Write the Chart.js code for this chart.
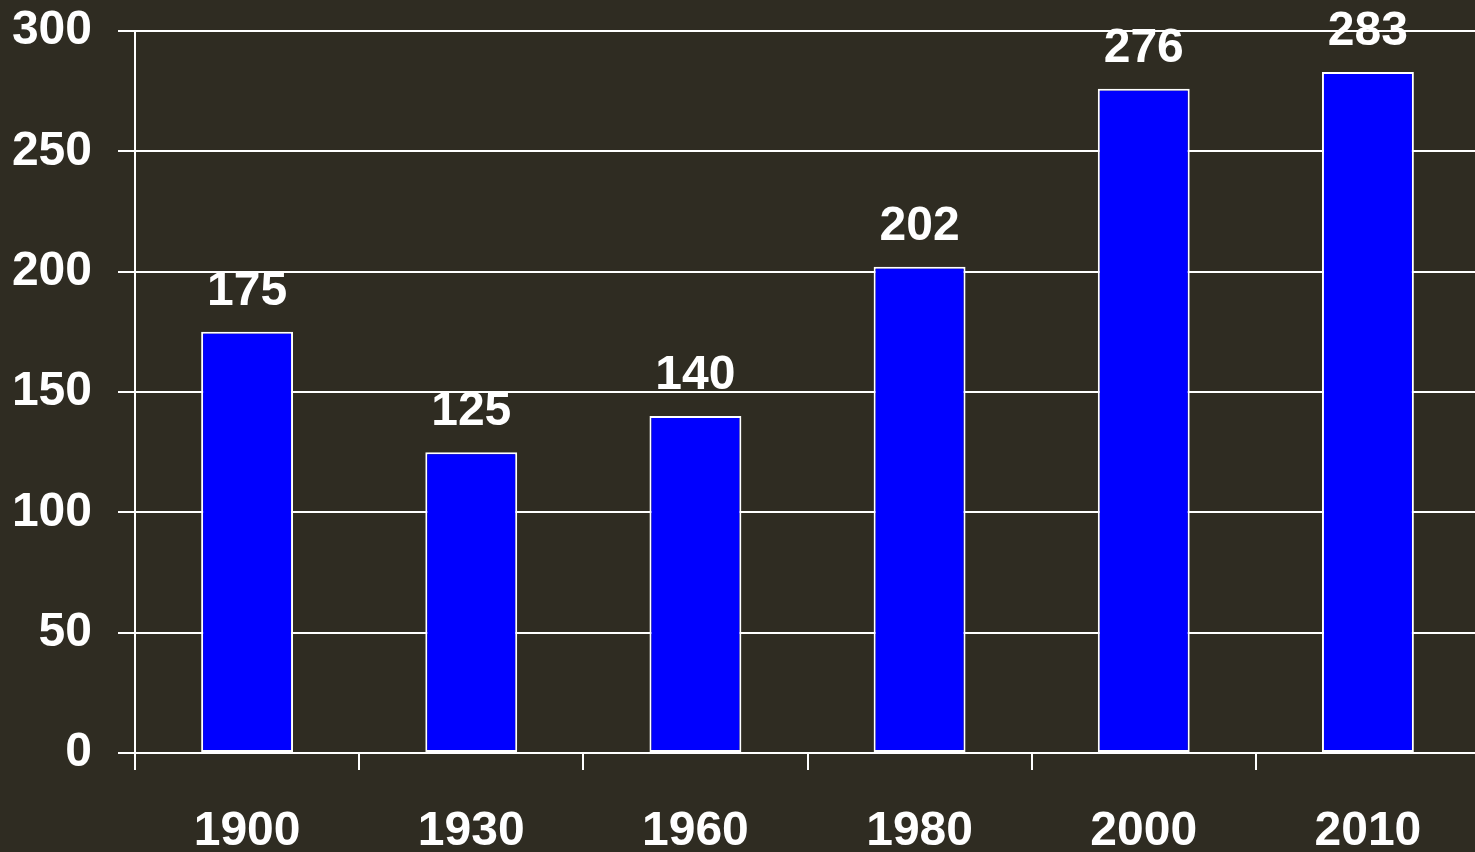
<!DOCTYPE html>
<html>
<head>
<meta charset="utf-8">
<script src="https://cdn.jsdelivr.net/npm/chart.js@4"></script>
<style>
  html, body { margin: 0; padding: 0; background: #2f2c22; overflow: hidden; }
  #wrap { width: 1480px; height: 871px; position: relative; top: -19px; }
</style>
</head>
<body>
<div id="wrap"><canvas id="barChart"></canvas></div>
<script>
// Data
const years = ['1900', '1930', '1960', '1980', '2000', '2010'];
const values = [175, 125, 140, 202, 276, 283];
const yTicks = [0, 50, 100, 150, 200, 250, 300];

const FONT = '"Liberation Sans", Arial, sans-serif';
const FSIZE = 48;

// Label angka di atas batang
const valueLabels = {
  id: 'valueLabels',
  afterDatasetsDraw(chart) {
    const ctx = chart.ctx;
    const meta = chart.getDatasetMeta(0);
    ctx.save();
    ctx.fillStyle = '#ffffff';
    ctx.font = 'bold ' + FSIZE + 'px ' + FONT;
    ctx.textAlign = 'center';
    ctx.textBaseline = 'alphabetic';
    meta.data.forEach((bar, i) => {
      ctx.fillText(String(values[i]), bar.x, bar.y - 27);
    });
    ctx.restore();
  }
};

const ctx = document.getElementById('barChart').getContext('2d');
new Chart(ctx, {
  type: 'bar',
  data: {
    labels: years,
    datasets: [{
      data: values,
      backgroundColor: '#0000ff',
      borderColor: '#ffffff',
      borderWidth: 2,
      borderSkipped: false,
      categoryPercentage: 1,
      barPercentage: 0.41
    }]
  },
  options: {
    responsive: true,
    maintainAspectRatio: false,
    animation: false,
    layout: { padding: { top: 6, right: 0, left: 0, bottom: 0 } },
    plugins: {
      legend: { display: false },
      tooltip: { enabled: false }
    },
    scales: {
      x: {
        offset: true,
        afterFit: s => { s.height = 99; },
        border: { display: true, color: '#ffffff', width: 2 },
        grid: {
          display: true,
          drawOnChartArea: false,
          drawTicks: true,
          tickLength: 17,
          color: '#ffffff',
          lineWidth: 2,
          offset: true
        },
        ticks: {
          color: '#ffffff',
          font: { family: FONT, size: FSIZE, weight: 'bold', lineHeight: 1 },
          padding: 38,
          maxRotation: 0
        }
      },
      y: {
        min: 0,
        max: 300,
        afterFit: s => { s.width = 135; },
        afterBuildTicks: s => { s.ticks = yTicks.map(v => ({ value: v })); },
        border: { display: true, color: '#ffffff', width: 2 },
        grid: {
          color: '#ffffff',
          lineWidth: 2,
          drawTicks: true,
          tickLength: 17
        },
        ticks: {
          color: '#ffffff',
          font: { family: FONT, size: FSIZE, weight: 'bold', lineHeight: 1 },
          padding: 26
        }
      }
    }
  },
  plugins: [valueLabels]
});
</script>
</body>
</html>
